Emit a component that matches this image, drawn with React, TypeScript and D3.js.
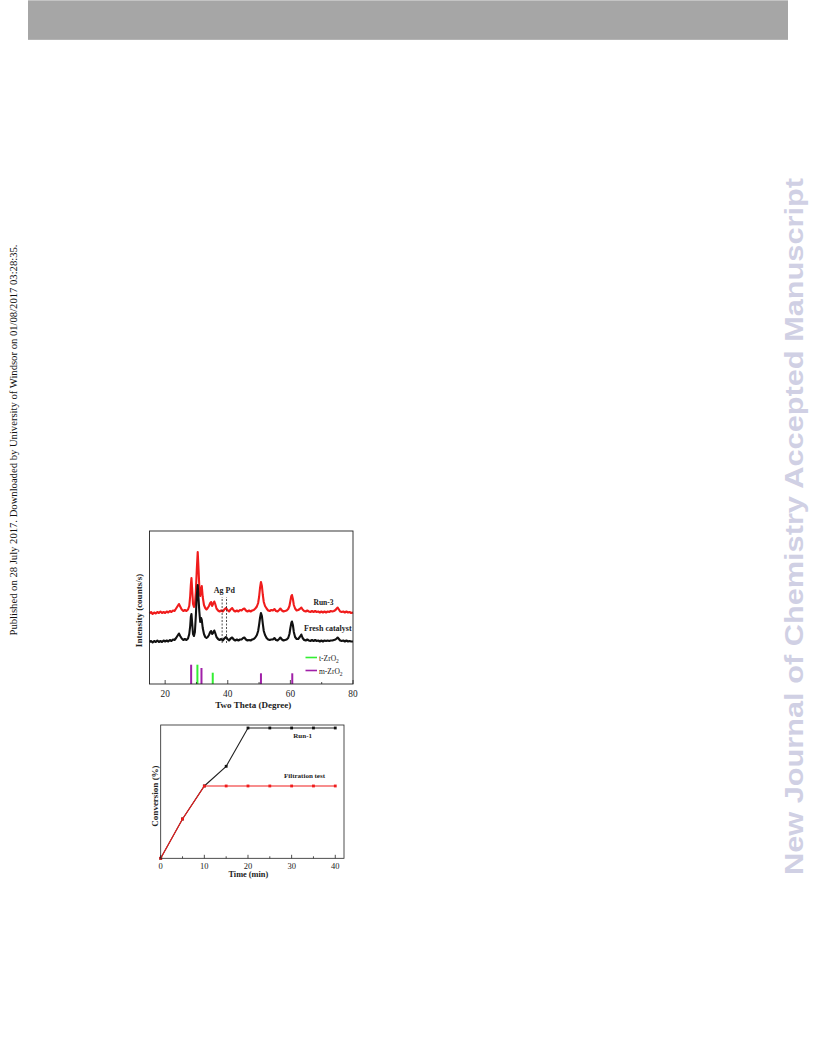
import React from "react";
import * as d3 from "d3";

// ---------- XRD data (Two Theta, intensity in arbitrary units) ----------
const xrdTheta = [
  15.0, 15.5, 16.0, 16.5, 17.0, 17.5, 18.0, 18.5, 19.0, 19.5, 20.0, 20.5, 21.0, 21.5, 22.0, 22.5, 23.0, 23.5, 24.0, 24.4,
  24.8, 25.3, 25.8, 26.3, 26.8, 27.3, 27.7, 28.0, 28.2, 28.4, 28.6, 28.9, 29.2, 29.5, 29.8, 30.1, 30.4, 30.6, 30.9, 31.2,
  31.5, 31.7, 32.0, 32.4, 32.8, 33.2, 33.6, 34.0, 34.4, 34.7, 35.0, 35.3, 35.7, 36.0, 36.4, 36.9, 37.4, 37.9, 38.4, 38.9,
  39.4, 39.9, 40.4, 40.9, 41.4, 41.9, 42.4, 42.9, 43.4, 43.9, 44.4, 44.9, 45.3, 45.8, 46.3, 46.8, 47.3, 47.8, 48.3, 48.8,
  49.3, 49.7, 50.0, 50.3, 50.6, 50.9, 51.2, 51.5, 51.9, 52.4, 52.9, 53.4, 53.9, 54.4, 54.9, 55.4, 55.9, 56.4, 56.8, 57.3,
  57.8, 58.3, 58.8, 59.3, 59.7, 60.0, 60.3, 60.5, 60.8, 61.1, 61.5, 62.0, 62.5, 63.0, 63.5, 63.9, 64.4, 64.9, 65.4, 65.9,
  66.4, 66.9, 67.4, 67.9, 68.4, 68.9, 69.4, 69.9, 70.4, 70.9, 71.4, 71.9, 72.4, 72.9, 73.4, 73.9, 74.4, 74.8, 75.1, 75.5,
  75.9, 76.4, 76.9, 77.4, 77.9, 78.4, 78.9, 79.4, 80.0,
];

const run3Intensity = [
  70.5, 72, 70, 71.5, 70.5, 72, 71, 72.5, 71, 72, 71, 72.5, 71.5, 73, 72, 73.5, 73, 75.5, 78, 80,
  77.5, 74.5, 73, 74, 73, 74.5, 78, 88, 99, 106, 96, 80, 77, 79, 92, 114, 132, 119, 98, 88,
  94, 98, 87, 79, 76, 74.5, 76, 78, 81, 82, 78, 80, 82.5, 80, 75.5, 73.5, 72.5, 73.5, 72.5, 74.5,
  76, 74, 72.5, 74.5, 76, 73.5, 72.5, 73.5, 72.5, 74, 73.5, 75, 75.5, 73.5, 72.5, 73.5, 72.5, 73.5, 74, 75.5,
  77.5, 81, 87, 96, 102, 98, 89, 82, 78, 75.5, 73.5, 73, 74, 73.5, 75, 73, 72.5, 74, 75.5, 73.5,
  72.5, 73, 73.5, 75, 78, 83, 88, 89, 85, 79, 75.5, 73.5, 74, 75, 76.5, 74.5, 73, 72.5, 73.5, 72.5,
  72, 73, 72, 73, 72, 72.5, 71.5, 72.5, 71.5, 72.5, 71.5, 72.5, 72, 73, 72.5, 73, 74, 75.5, 76.5, 74.5,
  72.5, 72, 72.5, 71.5, 72.5, 71.5, 72, 71, 71.5,
];

const freshIntensity = [
  42, 43, 41.5, 43, 42, 43.5, 42, 43, 42, 43.5, 42.5, 43.5, 42.5, 44, 43, 44.5, 44, 46, 48.5, 50.5,
  48, 45.5, 44, 45, 44, 45.5, 50, 58, 67, 70, 62, 50, 48, 52, 68, 88, 99, 89, 73, 62,
  66, 64, 56, 50, 47, 46, 47, 49, 52, 53, 50, 51, 53.5, 51, 47, 45, 44, 45, 43.5, 45.5,
  47, 45, 43.5, 45.5, 46.5, 44.5, 43.5, 44.5, 43.5, 44.5, 44.5, 46, 46.5, 44.5, 43.5, 44, 43.5, 44.5, 45, 46.5,
  49, 53, 59, 66, 71, 68, 60, 53, 49, 46, 44.5, 44, 44.5, 44.5, 46, 44, 43.5, 45, 46.5, 44.5,
  43.5, 44, 44.5, 46, 50, 56, 61, 62.5, 59, 52, 47, 45, 45, 47, 49.5, 46, 44, 43.5, 44.5, 43.5,
  43, 44, 43, 44, 43, 43.5, 42.5, 43.5, 42.5, 43.5, 43, 43.5, 43, 43.5, 43.5, 44, 44.5, 45.5, 46.5, 45,
  43.5, 43, 43.5, 42.5, 43.5, 42.5, 43, 42.5, 42.5,
];

const tZrO2Pos = [30.3, 35.2];
const tZrO2Height = [19.3, 11.3];
const mZrO2Pos = [28.3, 31.6, 50.6, 60.6];
const mZrO2Height = [19.3, 16, 10.7, 10.7];

const agPdPos = [38.2, 39.6];
const agPdRange = [41, 87];

const xrdMajorTicks = [20, 40, 60, 80];
const xrdMinorTicks = [30, 50, 70];

// ---------- Conversion data ----------
const timeMin = [0, 5, 10, 15, 20, 25, 30, 35, 40];
const run1Conv = [0, 30.2, 55.5, 70.6, 100, 100, 100, 100, 100];
const filtrationConv = [0, 30.2, 55.5, 55.5, 55.5, 55.5, 55.5, 55.5, 55.5];
const timeMajorTicks = [0, 10, 20, 30, 40];
const timeMinorTicks = [5, 15, 25, 35];

const SERIF = "'Liberation Serif', 'Times New Roman', serif";
const RED = "#f01c1c";
const GREEN = "#33ee33";
const PURPLE = "#a020a8";
const INK = "#222";

function XrdChart() {
  const x = d3.scaleLinear().domain([15, 80]).range([149.5, 353]);
  const y = d3.scaleLinear().domain([0, 153]).range([684, 531]);
  const line = d3
    .line<number>()
    .x((_, i) => x(xrdTheta[i]))
    .y((v) => y(v));
  const [x0, x1] = x.range();
  const [y0, y1] = y.range();
  return (
    <g>
      <path d={line(run3Intensity) || ""} fill="none" stroke={RED} strokeWidth={2.1} strokeLinejoin="round" />
      <path d={line(freshIntensity) || ""} fill="none" stroke="#111" strokeWidth={2.1} strokeLinejoin="round" />
      {agPdPos.map((p, i) => (
        <line key={"ag" + i} x1={x(p)} x2={x(p)} y1={y(agPdRange[0])} y2={y(agPdRange[1])} stroke={INK} strokeWidth={0.8} strokeDasharray="2,1.5" />
      ))}
      <text x={x((agPdPos[0] + agPdPos[1]) / 2)} y={y(agPdRange[1]) - 4} fontFamily={SERIF} fontSize={8} fontWeight="bold" textAnchor="middle" fill={INK}>Ag Pd</text>
      {mZrO2Pos.map((p, i) => (
        <line key={"m" + i} x1={x(p)} x2={x(p)} y1={y(0)} y2={y(mZrO2Height[i])} stroke={PURPLE} strokeWidth={2} />
      ))}
      {tZrO2Pos.map((p, i) => (
        <line key={"t" + i} x1={x(p)} x2={x(p)} y1={y(0)} y2={y(tZrO2Height[i])} stroke={GREEN} strokeWidth={2} />
      ))}
      <rect x={x0} y={y1} width={x1 - x0} height={y0 - y1} fill="none" stroke={INK} strokeWidth={0.9} />
      {xrdMajorTicks.map((t) => (
        <g key={"M" + t}>
          <line x1={x(t)} x2={x(t)} y1={y0} y2={y0 - 4} stroke={INK} strokeWidth={0.8} />
          <text x={x(t)} y={y0 + 13} fontFamily={SERIF} fontSize={9.3} textAnchor="middle" fill={INK}>{t}</text>
        </g>
      ))}
      {xrdMinorTicks.map((t) => (
        <line key={"m" + t} x1={x(t)} x2={x(t)} y1={y0} y2={y0 - 2} stroke={INK} strokeWidth={0.8} />
      ))}
      <text x={(x0 + x1) / 2 + 2} y={708} fontFamily={SERIF} fontSize={9} fontWeight="bold" textAnchor="middle" fill={INK}>Two Theta (Degree)</text>
      <text transform={`translate(142.2, ${(y0 + y1) / 2 + 3}) rotate(-90)`} fontFamily={SERIF} fontSize={9} fontWeight="bold" textAnchor="middle" fill={INK}>Intensity (counts/s)</text>
      <text x={313.5} y={604.5} fontFamily={SERIF} fontSize={7.5} fontWeight="bold" fill={INK}>Run-3</text>
      <text x={304} y={631} fontFamily={SERIF} fontSize={8} fontWeight="bold" fill={INK}>Fresh catalyst</text>
      {/* legend */}
      <line x1={305.5} x2={317} y1={657.5} y2={657.5} stroke={GREEN} strokeWidth={1.6} />
      <text x={319} y={660.5} fontFamily={SERIF} fontSize={7.5} fill={INK}>t-ZrO<tspan fontSize={5.5} dy={2}>2</tspan></text>
      <line x1={305.5} x2={317} y1={670.5} y2={670.5} stroke={PURPLE} strokeWidth={1.6} />
      <text x={319} y={673.5} fontFamily={SERIF} fontSize={7.5} fill={INK}>m-ZrO<tspan fontSize={5.5} dy={2}>2</tspan></text>
    </g>
  );
}

function ConversionChart() {
  const x = d3.scaleLinear().domain([0, 42]).range([160.7, 344]);
  const y = d3.scaleLinear().domain([0, 102.3]).range([858.3, 725]);
  const line = d3
    .line<number>()
    .x((_, i) => x(timeMin[i]))
    .y((v) => y(v));
  const [x0, x1] = x.range();
  const [y0, y1] = y.range();
  const ms = 2.8;
  return (
    <g>
      <path d={line(run1Conv) || ""} fill="none" stroke={INK} strokeWidth={1.1} />
      {run1Conv.map((v, i) => (
        <rect key={"b" + i} x={x(timeMin[i]) - ms / 2} y={y(v) - ms / 2} width={ms} height={ms} fill="#111" />
      ))}
      <path d={line(filtrationConv) || ""} fill="none" stroke={RED} strokeWidth={1.1} />
      {filtrationConv.map((v, i) => (
        <rect key={"r" + i} x={x(timeMin[i]) - ms / 2} y={y(v) - ms / 2} width={ms} height={ms} fill={RED} />
      ))}
      <rect x={x0} y={y1} width={x1 - x0} height={y0 - y1} fill="none" stroke={INK} strokeWidth={0.8} />
      {timeMajorTicks.map((t) => (
        <g key={"M" + t}>
          <line x1={x(t)} x2={x(t)} y1={y0} y2={y0 - 3.5} stroke={INK} strokeWidth={0.8} />
          <text x={x(t)} y={y0 + 11} fontFamily={SERIF} fontSize={8.5} textAnchor="middle" fill={INK}>{t}</text>
        </g>
      ))}
      {timeMinorTicks.map((t) => (
        <line key={"m" + t} x1={x(t)} x2={x(t)} y1={y0} y2={y0 - 2} stroke={INK} strokeWidth={0.8} />
      ))}
      <text x={248.3} y={877.3} fontFamily={SERIF} fontSize={8.3} fontWeight="bold" textAnchor="middle" fill={INK}>Time (min)</text>
      <text transform={`translate(157.5, 796) rotate(-90)`} fontFamily={SERIF} fontSize={9} fontWeight="bold" textAnchor="middle" fill={INK}>Conversion (%)</text>
      <text x={293.3} y={737.5} fontFamily={SERIF} fontSize={7} fontWeight="bold" fill={INK}>Run-1</text>
      <text x={284} y={778} fontFamily={SERIF} fontSize={7} fontWeight="bold" fill={INK}>Filtration test</text>
    </g>
  );
}

export default function App() {
  return (
    <svg width={816} height={1056} viewBox="0 0 816 1056" style={{ position: "absolute", left: 0, top: 0, background: "#fff" }}>
      <rect x={0} y={0} width={816} height={1056} fill="#fff" />
      <rect x={28} y={0} width={760} height={40} fill="#a6a6a6" />
      <line x1={28} x2={788} y1={0.5} y2={0.5} stroke="#c4c4c4" strokeWidth={1} />
      <line x1={28} x2={788} y1={39.5} y2={39.5} stroke="#b4b4b4" strokeWidth={1} />
      <text transform="translate(16.5, 440) rotate(-90)" fontFamily={SERIF} fontSize={9.5} textAnchor="middle" fill="#111" textLength={391} lengthAdjust="spacingAndGlyphs">
        Published on 28 July 2017. Downloaded by University of Windsor on 01/08/2017 03:28:35.
      </text>
      <text transform="translate(802.5, 526.5) rotate(-90)" fontFamily="'Liberation Sans', Arial, sans-serif" fontSize={25.5} fontWeight="bold" textAnchor="middle" fill="#d0d0e4" textLength={697} lengthAdjust="spacingAndGlyphs">
        New Journal of Chemistry Accepted Manuscript
      </text>
      <XrdChart />
      <ConversionChart />
    </svg>
  );
}
